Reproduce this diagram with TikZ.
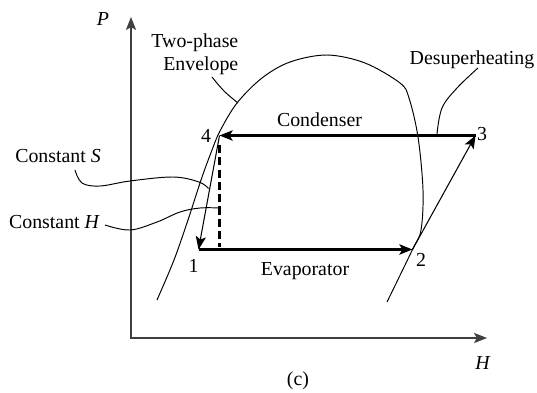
\documentclass[tikz,border=0pt]{standalone}
\usepackage{fontspec}
\setmainfont{Liberation Serif}
\usetikzlibrary{arrows.meta}
\begin{document}
\begin{tikzpicture}[>={Stealth[length=7.4pt,width=5.8pt,inset=1.6pt]},x=0.02cm,y=-0.02cm,
  font=\fontsize{11.3}{13}\selectfont,
  flow/.style={->,line width=1.5pt},
  leg/.style={->,line width=0.6pt},
  lead/.style={line width=0.55pt},
  axis/.style={<->,line width=0.6pt,black!75}]
\useasboundingbox (0,0) rectangle (537,392);
% axes
\coordinate (O) at (131,338);
\coordinate (Ptop) at (131,17);
\coordinate (Hend) at (487,338);
\draw[axis] (Ptop) -- (O) -- (Hend);
\node (P) at (103,19) {\textit{P}};
\node (H) at (483,363) {\textit{H}};
\node (cap) at (298,381) {(c)};
% cycle points
\coordinate (p1) at (198.5,249.5);
\coordinate (p2) at (412.5,249.5);
\coordinate (p3) at (475.5,135.5);
\coordinate (p4) at (219.5,135.5);
\coordinate (d4) at (219.5,145);
\coordinate (d1) at (219.5,247);
\node[anchor=base] (l1) at (193.5,272.5) {1};
\node[anchor=base] (l2) at (421,266.5) {2};
\node[anchor=base] (l3) at (482,140.5) {3};
\node[anchor=base] (l4) at (206,142.5) {4};
% envelope
\draw[lead] plot[smooth,tension=0.55] coordinates {(157,300) (174,260) (188,220) (201,180) (212,150) (220,131) (237,103) (262,78) (290,62) (327,55) (365,63) (400,83) (409,98) (418,137) (423,190) (421,230) (412.5,249.5) (387,302)};
% cycle
\draw[flow] (p3) -- (p4);
\draw[flow] (p1) -- (p2);
\draw[leg] (p4) -- (p1);
\draw[leg] (p2) -- (p3);
\draw[line width=1.2pt,dash pattern=on 4.6pt off 2.4pt] (d4) -- (d1);
% labels
\node[anchor=base] (cond) at (319.5,126) {Condenser};
\node[anchor=base] (evap) at (305,275) {Evaporator};
\node[anchor=base] (desup) at (472,64) {Desuperheating};
\node[align=right,anchor=north east] (env) at (244.5,28) {Two-phase\\Envelope};
\node[anchor=base] (cS) at (58,162) {Constant \textit{S}};
\node[anchor=base] (cH) at (54.5,228.5) {Constant \textit{H}};
% leaders
\coordinate (eS) at (208.5,188.5);
\coordinate (eH) at (219.5,208);
\coordinate (eE) at (238,103);
\coordinate (eD) at (437,134);
\draw[lead] plot[smooth,tension=0.6] coordinates {(75,170) (82,183) (100,186) (130,181) (173,177) (199,182) (eS)};
\draw[lead] plot[smooth,tension=0.6] coordinates {(105,225) (130,230) (157,222) (180,212) (200,208) (eH)};
\draw[lead] plot[smooth,tension=0.6] coordinates {(212,77) (224,91) (eE)};
\draw[lead] plot[smooth,tension=0.6] coordinates {(478,68) (457,88) (442,108) (eD)};
\end{tikzpicture}
\end{document}
